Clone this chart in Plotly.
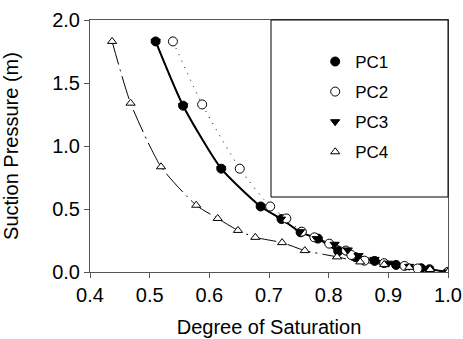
import plotly.graph_objects as go

# Degree of saturation (x) and suction pressure in m (y)
pc1_x = [0.510, 0.556, 0.620, 0.686, 0.721, 0.753, 0.782, 0.816, 0.845, 0.877, 0.913, 0.955, 0.969, 1.000]
pc1_y = [1.830, 1.320, 0.820, 0.520, 0.420, 0.315, 0.265, 0.165, 0.118, 0.088, 0.056, 0.030, 0.022, 0.000]

pc2_x = [0.539, 0.588, 0.651, 0.702, 0.729, 0.755, 0.776, 0.801, 0.829, 0.838, 0.860, 0.893, 0.927, 0.949, 1.000]
pc2_y = [1.830, 1.330, 0.820, 0.520, 0.425, 0.320, 0.275, 0.225, 0.170, 0.135, 0.090, 0.070, 0.048, 0.028, 0.000]

pc3_x = [0.510, 0.556, 0.620, 0.686, 0.720, 0.752, 0.780, 0.810, 0.832, 0.850, 0.877, 0.900, 0.935, 0.965, 1.000]
pc3_y = [1.830, 1.320, 0.820, 0.520, 0.420, 0.320, 0.265, 0.220, 0.175, 0.130, 0.100, 0.070, 0.045, 0.025, 0.000]

pc4_x = [0.437, 0.468, 0.519, 0.578, 0.614, 0.648, 0.677, 0.722, 0.760, 0.814, 0.853, 0.893, 0.935, 0.970, 1.000]
pc4_y = [1.830, 1.340, 0.835, 0.530, 0.425, 0.330, 0.275, 0.233, 0.170, 0.120, 0.080, 0.060, 0.037, 0.020, 0.000]

series = [
    ("PC1", pc1_x, pc1_y, "circle", "black", dict(color="black", width=2, dash="solid")),
    ("PC2", pc2_x, pc2_y, "circle", "white", dict(color="black", width=1, dash="1px,6px")),
    ("PC3", pc3_x, pc3_y, "triangle-down", "black", dict(color="black", width=1, dash="solid")),
    ("PC4", pc4_x, pc4_y, "triangle-up", "white", dict(color="black", width=1, dash="24px,5px,2px,5px")),
]

FONT = "Liberation Sans, Arial, sans-serif"
fig = go.Figure()

for name, xs, ys, sym, col, line in series:
    fig.add_trace(go.Scatter(x=xs, y=ys, mode="lines", line=dict(shape="spline", smoothing=0.6, **line),
                             showlegend=False, hoverinfo="skip"))

for name, xs, ys, sym, col, line in series:
    fig.add_trace(go.Scatter(
        x=xs, y=ys, mode="markers", name=name, legendgroup=name,
        marker=dict(symbol=sym, size=9 if sym == "circle" else 8, color=col, line=dict(color="black", width=1)),
    ))

# legend box
fig.add_shape(type="rect", xref="paper", yref="paper", x0=0.5056, x1=1.0, y0=0.2976, y1=1.0,
              line=dict(color="black", width=1), fillcolor="white", layer="above")

fig.update_layout(
    width=463, height=339,
    margin=dict(l=90, r=15, t=20, b=67),
    paper_bgcolor="white", plot_bgcolor="white",
    font=dict(family=FONT, color="black", size=20),
    showlegend=True,
    legend=dict(x=0.629, y=0.905, xanchor="left", yanchor="top",
                bgcolor="rgba(0,0,0,0)", borderwidth=0,
                font=dict(size=17, family=FONT), tracegroupgap=5, itemsizing="trace"),
    xaxis=dict(range=[0.4, 1.0], tickvals=[0.4, 0.5, 0.6, 0.7, 0.8, 0.9, 1.0], tickformat=".1f",
               showgrid=False, zeroline=False, showline=True, linecolor="#555", linewidth=1, mirror=True,
               ticks="outside", ticklen=5, tickcolor="#555", automargin=False,
               title=dict(text="Degree of Saturation", font=dict(size=20), standoff=14),
               tickfont=dict(size=20)),
    yaxis=dict(range=[0, 2.0], tickvals=[0, 0.5, 1.0, 1.5, 2.0], tickformat=".1f",
               showgrid=False, zeroline=False, showline=True, linecolor="#555", linewidth=1, mirror=True,
               ticks="outside", ticklen=5, tickcolor="#555", automargin=False,
               title=dict(text="Suction Pressure (m)", font=dict(size=20), standoff=28),
               tickfont=dict(size=20)),
)

fig.write_html("out.html")
